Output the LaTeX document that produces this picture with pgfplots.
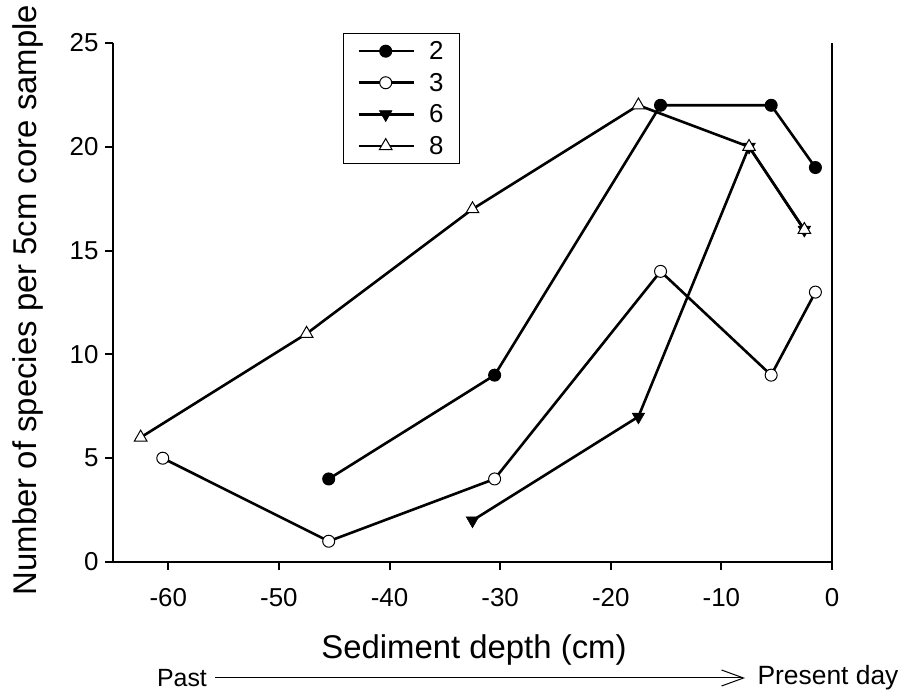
\documentclass[border=0pt]{standalone}
\usepackage{fontspec}
\setmainfont{Liberation Sans}
\usepackage{pgfplots}
\pgfplotsset{compat=1.18}
\usetikzlibrary{arrows.meta}
\begin{document}
\begin{tikzpicture}
\useasboundingbox (0,0) rectangle (908bp,693bp);
\begin{axis}[
  at={(113bp,131bp)}, anchor=south west,
  scale only axis, width=719bp, height=519bp,
  xmin=-65, xmax=0, ymin=0, ymax=25,
  axis x line*=bottom, axis y line*=left,
  axis line style={line width=2.2bp, black},
  xtick={-60,-50,...,0}, ytick={0,5,...,25},
  tick style={line width=2bp, black},
  tick align=outside, major tick length=8bp,
  minor tick num=0,
  xticklabel style={font=\fontsize{26}{30}\selectfont, yshift=-15bp},
  yticklabel style={font=\fontsize{26}{30}\selectfont, xshift=-3bp},
  /pgf/number format/assume math mode=true,
  clip=false,
  every axis plot/.append style={line width=2.6bp, black},
  legend style={at={(rel axis cs:0.3199,1.0193)}, anchor=north west,
    draw=black, line width=0.8bp, fill=white,
    font=\fontsize{26}{26}\selectfont,
    inner xsep=14bp, inner ysep=2bp, row sep=0bp,
    nodes={inner xsep=2bp, inner ysep=6bp}},
  legend cell align=left,
  legend image code/.code={\draw[line width=2.6bp, mark repeat=2,mark phase=2] plot coordinates {(0bp,0bp) (27bp,0bp) (55bp,0bp)};},
]
\addplot[mark=*, mark size=6bp, mark options={fill=black, line width=1bp}] coordinates {
(-45.5,4) (-30.5,9) (-15.5,22) (-5.5,22) (-1.5,19)};
\addlegendentry{\hspace{12bp}2\hspace{10bp}}
\addplot[mark=*, mark size=6bp, mark options={fill=white, line width=1bp}] coordinates {
(-60.5,5) (-45.5,1) (-30.5,4) (-15.5,14) (-5.5,9) (-1.5,13)};
\addlegendentry{\hspace{12bp}3\hspace{10bp}}
\addplot[mark=triangle*, mark size=7.3bp, mark options={fill=black, rotate=180, line width=0.5bp}] coordinates {
(-32.5,2) (-17.5,7) (-7.5,20) (-2.5,16)};
\addlegendentry{\hspace{12bp}6\hspace{10bp}}
\addplot[mark=triangle*, mark size=7.3bp, mark options={fill=white, line width=1bp}] coordinates {
(-62.5,6) (-47.5,11) (-32.5,17) (-17.5,22) (-7.5,20) (-2.5,16)};
\addlegendentry{\hspace{12bp}8\hspace{10bp}}
\draw[line width=2.2bp] (rel axis cs:1,0) -- (rel axis cs:1,1);
\end{axis}
\node[font=\fontsize{33}{33}\selectfont, rotate=90] at (28bp,393bp) {Number of species per 5cm core sample};
\node[font=\fontsize{33}{33}\selectfont] at (474bp,43bp) {Sediment depth (cm)};
\node[font=\fontsize{25}{25}\selectfont] at (182bp,15bp) {Past};
\node[font=\fontsize{26.5}{26.5}\selectfont] at (828bp,15bp) {Present day};
\draw[line width=1bp, -{Straight Barb[length=22bp,width=16bp,line width=1bp]}] (215bp,15bp) -- (745bp,15bp);
\end{tikzpicture}
\end{document}
